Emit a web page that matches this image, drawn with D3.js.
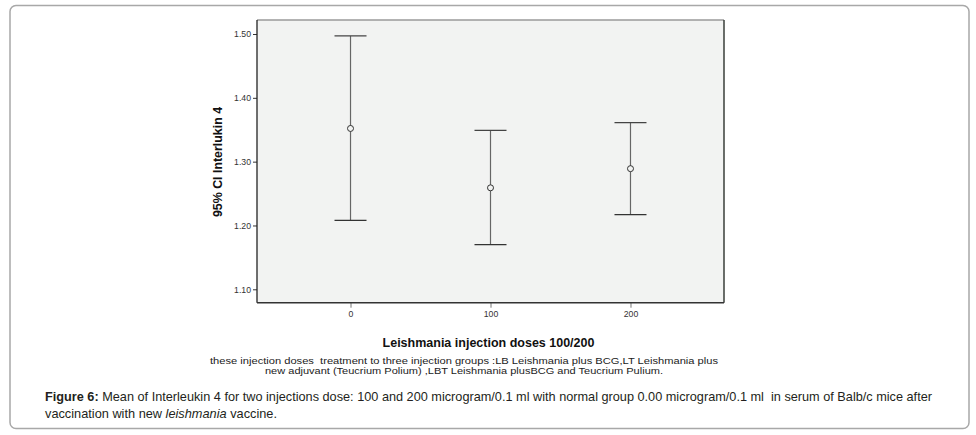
<!DOCTYPE html>
<html>
<head>
<meta charset="utf-8">
<script src="https://cdn.jsdelivr.net/npm/d3@7"></script>
<style>
  html, body { margin: 0; padding: 0; background: #fff; }
  svg { display: block; }
  svg text { white-space: pre; }
</style>
</head>
<body>
<svg id="chart" width="976" height="435"></svg>
<script>
const categories = ["0", "100", "200"];
const means = [1.352, 1.259, 1.289];
const lowerCI = [1.208, 1.170, 1.217];
const upperCI = [1.497, 1.349, 1.361];
const yTicks = [1.10, 1.20, 1.30, 1.40, 1.50];
const yTitle = "95% CI Interlukin 4";
const xTitle = "Leishmania injection doses 100/200";
const noteLines = [
  "these injection doses  treatment to three injection groups :LB Leishmania plus BCG,LT Leishmania plus",
  "new adjuvant (Teucrium Polium) ,LBT Leishmania plusBCG and Teucrium Pulium."
];

const svg = d3.select("#chart");
const F = "'Liberation Sans', Arial, sans-serif";

// outer rounded frame
svg.append("rect").attr("x", 10).attr("y", 5.5).attr("width", 959).attr("height", 423)
  .attr("rx", 6).attr("fill", "#fff").attr("stroke", "#a8a8a8").attr("stroke-width", 1.5);

const plot = { left: 257, right: 724, top: 20, bottom: 302.7 };

const x = d3.scalePoint().domain(categories).range([plot.left, plot.right]).padding(0.668);
const y = d3.scaleLinear().domain([1.10, 1.50]).range([289.3, 34]);

// plot background
svg.append("rect").attr("x", plot.left).attr("y", plot.top)
  .attr("width", plot.right - plot.left).attr("height", plot.bottom - plot.top)
  .attr("fill", "#f2f3f2");
// top and right frame lines
svg.append("line").attr("x1", plot.left).attr("x2", plot.right).attr("y1", plot.top).attr("y2", plot.top)
  .attr("stroke", "#9a9a9a").attr("stroke-width", 1.5);
svg.append("line").attr("x1", plot.right).attr("x2", plot.right).attr("y1", plot.top).attr("y2", plot.bottom)
  .attr("stroke", "#3a3f3a").attr("stroke-width", 1.5);

// y axis
const yAxis = d3.axisLeft(y).tickValues(yTicks).tickFormat(d3.format(".2f")).tickSize(4).tickPadding(2);
const gy = svg.append("g").attr("transform", `translate(${plot.left},0)`).call(yAxis);
gy.select(".domain").remove();
gy.append("line").attr("x1", 0).attr("x2", 0).attr("y1", plot.top).attr("y2", plot.bottom)
  .attr("stroke", "#222").attr("stroke-width", 1.3);
gy.selectAll(".tick line").attr("stroke", "#333");
gy.selectAll(".tick text").attr("font-family", F).attr("font-size", "8.7px").attr("fill", "#333");

// x axis
const xAxis = d3.axisBottom(x).tickSize(5).tickPadding(3);
const gx = svg.append("g").attr("transform", `translate(0,${plot.bottom})`).call(xAxis);
gx.select(".domain").remove();
gx.append("line").attr("x1", plot.left).attr("x2", plot.right).attr("y1", 0).attr("y2", 0)
  .attr("stroke", "#333").attr("stroke-width", 1.5);
gx.selectAll(".tick line").attr("stroke", "#777");
gx.selectAll(".tick text").attr("font-family", F).attr("font-size", "8.7px").attr("fill", "#333");

// error bars
const data = categories.map((c, i) => ({ c, m: means[i], lo: lowerCI[i], hi: upperCI[i] }));
const cap = 16;
const g = svg.append("g");
g.selectAll(".stem").data(data).join("line").attr("class", "stem")
  .attr("x1", d => x(d.c)).attr("x2", d => x(d.c))
  .attr("y1", d => y(d.hi)).attr("y2", d => y(d.lo))
  .attr("stroke", "#666").attr("stroke-width", 1.2);
g.selectAll(".capHi").data(data).join("line").attr("class", "capHi")
  .attr("x1", d => x(d.c) - cap).attr("x2", d => x(d.c) + cap)
  .attr("y1", d => y(d.hi)).attr("y2", d => y(d.hi))
  .attr("stroke", "#444").attr("stroke-width", 1.2);
g.selectAll(".capLo").data(data).join("line").attr("class", "capLo")
  .attr("x1", d => x(d.c) - cap).attr("x2", d => x(d.c) + cap)
  .attr("y1", d => y(d.lo)).attr("y2", d => y(d.lo))
  .attr("stroke", "#333").attr("stroke-width", 1.2);
g.selectAll(".mean").data(data).join("circle").attr("class", "mean")
  .attr("cx", d => x(d.c)).attr("cy", d => y(d.m)).attr("r", 3)
  .attr("fill", "#f2f3f2").attr("stroke", "#333").attr("stroke-width", 1);

// axis titles
svg.append("text").attr("transform", "translate(222,162) rotate(-90)")
  .attr("text-anchor", "middle").attr("font-family", F).attr("font-weight", "bold")
  .attr("font-size", "12.4px").attr("fill", "#111").text(yTitle);
svg.append("text").attr("x", 488.5).attr("y", 347.3)
  .attr("text-anchor", "middle").attr("font-family", F).attr("font-weight", "bold")
  .attr("font-size", "12.5px").attr("fill", "#111").text(xTitle);

// note lines
const noteLayout = [{ x: 210, y: 364, w: 508 }, { x: 265, y: 373.5, w: 398 }];
noteLines.forEach((t, i) => {
  svg.append("text").attr("x", noteLayout[i].x).attr("y", noteLayout[i].y)
    .attr("font-family", F).attr("font-size", "9px").attr("fill", "#222")
    .attr("textLength", noteLayout[i].w).attr("lengthAdjust", "spacingAndGlyphs")
    .text(t);
});

// caption
const c1 = svg.append("text").attr("x", 45).attr("y", 401)
  .attr("font-family", F).attr("font-size", "13px").attr("fill", "#231f20")
  .attr("textLength", 887).attr("lengthAdjust", "spacingAndGlyphs");
c1.append("tspan").attr("font-weight", "bold").text("Figure 6:");
c1.append("tspan").text(" Mean of Interleukin 4 for two injections dose: 100 and 200 microgram/0.1 ml with normal group 0.00 microgram/0.1 ml  in serum of Balb/c mice after");
const c2 = svg.append("text").attr("x", 45).attr("y", 417.5)
  .attr("font-family", F).attr("font-size", "13px").attr("fill", "#231f20")
  .attr("textLength", 232).attr("lengthAdjust", "spacingAndGlyphs");
c2.append("tspan").text("vaccination with new ");
c2.append("tspan").attr("font-style", "italic").text("leishmania");
c2.append("tspan").text(" vaccine.");
</script>
</body>
</html>
